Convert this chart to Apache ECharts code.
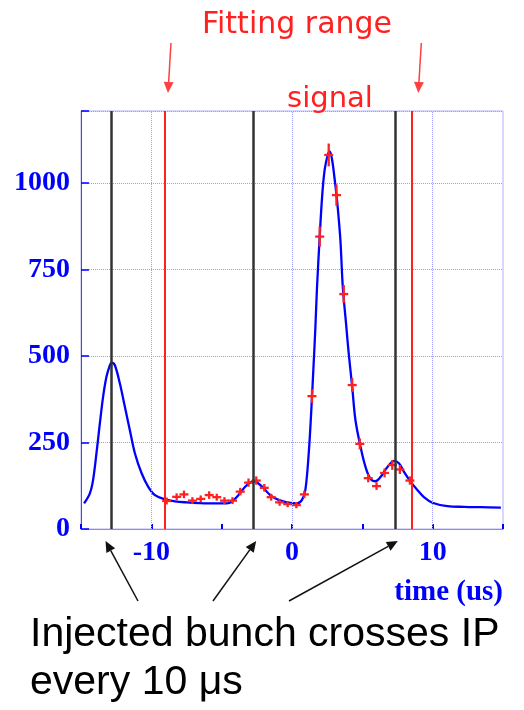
<!DOCTYPE html>
<html>
<head>
<meta charset="utf-8">
<script src="https://cdn.jsdelivr.net/npm/echarts@6/dist/echarts.min.js"></script>
<style>
  html, body { margin: 0; padding: 0; background: #fff; }
  #chart { width: 524px; height: 710px; }
</style>
</head>
<body>
<div id="chart"></div>
<script>
// fit curve (blue)
const fitTime = [-14.78, -14.37, -14.14, -13.9, -13.66, -13.43, -13.19, -12.95, -12.83, -12.6, -12.24, -11.88, -11.53, -11.17, -10.69, -10.22, -9.74, -9.03, -8.32, -7.5, -6.54, -5.5, -4.63, -4.28, -3.8, -3.33, -2.85, -2.7, -2.5, -2.02, -1.55, -0.95, -0.24, 0.36, 0.71, 0.95, 1.19, 1.36, 1.54, 1.66, 1.78, 1.97, 2.14, 2.32, 2.54, 2.68, 2.85, 3.01, 3.2, 3.44, 3.61, 3.85, 4.03, 4.28, 4.51, 4.87, 5.22, 5.58, 5.94, 6.29, 6.65, 7.01, 7.24, 7.6, 7.95, 8.43, 8.91, 9.38, 9.98, 11.05, 12.23, 13.42, 14.85]
const fitValue = [74, 103, 142, 219, 305, 382, 440, 473, 481, 474, 421, 353, 286, 219, 161, 122, 98, 86, 80, 77, 75, 74, 74, 79, 98, 122, 137, 138, 135, 118, 98, 84, 76, 74, 84, 113, 219, 334, 479, 580, 700, 845, 960, 1038, 1081, 1091, 1067, 1018, 951, 835, 700, 590, 508, 411, 315, 238, 180, 145, 138, 150, 172, 190, 197, 190, 166, 137, 113, 92, 76, 66, 64, 63, 62]

// measured points (red crosses)
const dataTime = [-8.91, -8.2, -7.68, -7.08, -6.49, -5.89, -5.35, -4.8, -4.23, -3.68, -3.09, -2.54, -1.97, -1.48, -0.88, -0.31, 0.31, 0.88, 1.42, 1.97, 2.61, 3.16, 3.68, 4.28, 4.82, 5.42, 6.01, 6.58, 7.13, 7.67, 8.38]
const dataValue = [81, 93, 100, 82, 87, 98, 92, 82, 82, 108, 134, 140, 119, 92, 77, 72, 69, 100, 384, 845, 1081, 965, 679, 416, 246, 147, 124, 162, 185, 172, 140]
const dataError = [10, 10, 11, 10, 10, 11, 10, 10, 10, 11, 12, 12, 11, 10, 10, 9, 9, 11, 20, 29, 33, 31, 26, 20, 16, 12, 11, 13, 14, 13, 12]

// vertical markers
const bunchTimes = [-12.83, -2.76, 7.31] // injected bunch crossings
const fitRange = [-9.03, 8.48]
const gridTimes = [-10, 0, 10]

const yTicks = [0, 250, 500, 750, 1000]
const xLabels = [-10, 0, 10]

const BLUE = '#0000ff'
const RED = '#ff2020'
const GRID = '#9a9aff'

const chart = echarts.init(document.getElementById('chart'))

const option = {
    animation: false,
    backgroundColor: '#fff',
    grid: {
        left: 81,
        right: 21,
        top: 111,
        bottom: 181,
        show: true,
        borderColor: '#b0b0ff',
        borderWidth: 1
    },
    xAxis: {
        type: 'value',
        min: -15,
        max: 15,
        interval: 5,
        axisLine: { onZero: false, lineStyle: { color: '#8888ff', width: 1 } },
        axisTick: { inside: true, length: 5, lineStyle: { color: BLUE, width: 2 } },
        splitLine: { show: false },
        axisLabel: {
            margin: 10,
            color: BLUE,
            fontFamily: 'Liberation Serif',
            fontWeight: 'bold',
            fontSize: 28,
            formatter: v => (xLabels.indexOf(v) >= 0 ? String(v) : '')
        }
    },
    yAxis: {
        type: 'value',
        min: 0,
        max: 1208,
        interval: 250,
        axisLine: { show: true, onZero: false, lineStyle: { color: '#4444ff', width: 1 } },
        axisTick: { show: true, inside: true, length: 8, lineStyle: { color: BLUE, width: 1.5 } },
        splitLine: { show: true, lineStyle: { color: GRID, type: 'dotted', width: 1 } },
        axisLabel: {
            margin: 11,
            color: BLUE,
            fontFamily: 'Liberation Serif',
            fontWeight: 'bold',
            fontSize: 28,
            formatter: v => (yTicks.indexOf(v) >= 0 ? String(v) : '')
        }
    },
    series: [
        { // dotted vertical grid + bunch / fitting range lines
            type: 'line',
            data: [],
            silent: true,
            z: 2,
            markLine: {
                silent: true,
                symbol: ['none', 'none'],
                label: { show: false },
                animation: false,
                data: [
                    ...gridTimes.map(t => ({ xAxis: t, lineStyle: { color: GRID, type: 'dotted', width: 1 } })),
                    ...bunchTimes.map(t => ({ xAxis: t, lineStyle: { color: '#333', type: 'solid', width: 2.5 } })),
                    ...fitRange.map(t => ({ xAxis: t, lineStyle: { color: RED, type: 'solid', width: 2 } }))
                ]
            }
        },
        { // fit
            type: 'line',
            data: fitTime.map((t, i) => [t, fitValue[i]]),
            showSymbol: false,
            smooth: 0.35,
            z: 3,
            lineStyle: { color: BLUE, width: 2.3 }
        },
        { // data with error bars
            type: 'custom',
            z: 4,
            data: dataTime.map((t, i) => [t, dataValue[i], dataError[i]]),
            renderItem(params, api) {
                const t = api.value(0), v = api.value(1), e = api.value(2)
                const halfBin = 0.32
                const l = api.coord([t - halfBin, v])
                const r = api.coord([t + halfBin, v])
                const lo = api.coord([t, v - e])
                const hi = api.coord([t, v + e])
                const style = { stroke: RED, lineWidth: 2.3 }
                return {
                    type: 'group',
                    children: [
                        { type: 'line', shape: { x1: l[0], y1: l[1], x2: r[0], y2: r[1] }, style },
                        { type: 'line', shape: { x1: lo[0], y1: lo[1], x2: hi[0], y2: hi[1] }, style }
                    ]
                }
            }
        }
    ]
}
chart.setOption(option)

// annotations placed from axis positions
function arrow(x1, y1, x2, y2, color, head) {
    const ang = Math.atan2(y2 - y1, x2 - x1)
    const hx = x2 - Math.cos(ang) * head, hy = y2 - Math.sin(ang) * head
    const w = head * 0.45
    return [
        { type: 'line', shape: { x1, y1, x2: hx, y2: hy }, style: { stroke: color, lineWidth: 1.5 } },
        {
            type: 'polygon',
            shape: { points: [[x2, y2], [hx - Math.sin(ang) * w, hy + Math.cos(ang) * w], [hx + Math.sin(ang) * w, hy - Math.cos(ang) * w]] },
            style: { fill: color }
        }
    ]
}

const bx = bunchTimes.map(t => chart.convertToPixel({ xAxisIndex: 0 }, t))
const rx = fitRange.map(t => chart.convertToPixel({ xAxisIndex: 0 }, t))
const axisY = chart.convertToPixel({ yAxisIndex: 0 }, 0)

const elements = [
    { type: 'text', x: 297, y: 25, style: { text: 'Fitting range', fill: RED, font: '30px "DejaVu Sans"', align: 'center', verticalAlign: 'middle' } },
    { type: 'text', x: 330, y: 99, style: { text: 'signal', fill: RED, font: '29px "DejaVu Sans"', align: 'center', verticalAlign: 'middle' } },
    { type: 'text', x: 503, y: 593, style: { text: 'time (us)', fill: BLUE, font: 'bold 29px "Liberation Serif"', align: 'right', verticalAlign: 'middle' } },
    { type: 'text', x: 30, y: 635, style: { text: 'Injected bunch crosses IP', fill: '#000', font: '41px "Liberation Sans"', align: 'left', verticalAlign: 'middle' } },
    { type: 'text', x: 30, y: 683, style: { text: 'every 10 \u03bcs', fill: '#000', font: '41px "Liberation Sans"', align: 'left', verticalAlign: 'middle' } },
    ...arrow(rx[0] + 6, 43, rx[0] + 3, 93, '#ff4040', 11),
    ...arrow(rx[1] + 10, 43, rx[1] + 7, 93, '#ff4040', 11),
    ...arrow(138, 601, bx[0] - 6, axisY + 12, '#111', 11),
    ...arrow(213, 601, bx[1] + 3, axisY + 12, '#111', 11),
    ...arrow(289, 601, bx[2] + 3, axisY + 12, '#111', 11)
]
chart.setOption({ graphic: { elements } })
</script>
</body>
</html>
